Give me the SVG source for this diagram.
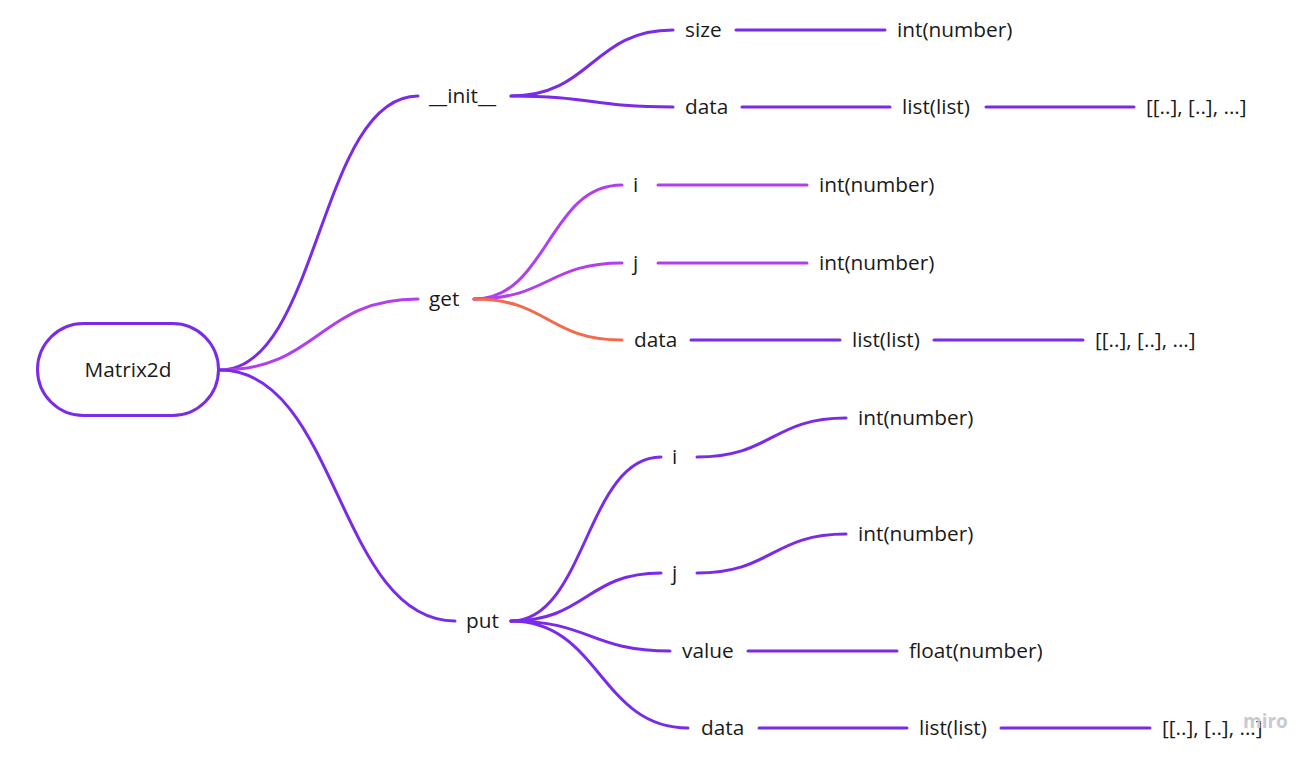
<svg xmlns="http://www.w3.org/2000/svg" width="1316" height="759" viewBox="0 0 1316 759">
<style>
text{font-family:"Open Sans","Noto Sans","Liberation Sans",sans-serif;font-size:20.8px;fill:#1a1a1a;dominant-baseline:central}
.c{fill:none;stroke-width:3;stroke-linecap:round}
.p{stroke:#7a2be8}
.l{stroke:#b13ff0}
.o{stroke:#f3694a}
.wm{font-size:19px;font-weight:bold;fill:#c9c9d2}
</style>
<rect width="1316" height="759" fill="#ffffff"/>
<g id="connectors">
<path class="c p" d="M220,370 C319,370 319,96 418,96"/>
<path class="c l" d="M220,370 C319,370 319,299 418,299"/>
<path class="c p" d="M220,370 C338,370 338,621 455,621"/>
<path class="c p" d="M511,96 C592,96 592,30 673,30"/>
<path class="c p" d="M511,96 C592,96 592,107 673,107"/>
<path class="c p" d="M736,30 H885"/>
<path class="c p" d="M742,107 H890"/>
<path class="c p" d="M986,107 H1134"/>
<path class="c l" d="M474,299 C548,299 548,185 622,185"/>
<path class="c l" d="M474,299 C548,299 548,263 622,263"/>
<path class="c o" d="M474,299 C548,299 548,340 622,340"/>
<path class="c l" d="M658,185 H807"/>
<path class="c l" d="M658,263 H807"/>
<path class="c p" d="M691,340 H840"/>
<path class="c p" d="M934,340 H1083"/>
<path class="c p" d="M511,621 C586,621 586,457 661,457"/>
<path class="c p" d="M511,621 C586,621 586,573 661,573"/>
<path class="c p" d="M511,621 C590,621 590,651 670,651"/>
<path class="c p" d="M511,621 C600,621 600,728 688,728"/>
<path class="c p" d="M697,457 C772,457 772,418 846,418"/>
<path class="c p" d="M697,573 C772,573 772,534 846,534"/>
<path class="c p" d="M748,651 H897"/>
<path class="c p" d="M759,728 H907"/>
<path class="c p" d="M1001,728 H1150"/>
</g>
<g id="root">
<rect x="37.5" y="323.5" width="181" height="92" rx="46" fill="#ffffff" stroke="#7a2be8" stroke-width="3"/>
<text x="128" y="369" text-anchor="middle">Matrix2d</text>
</g>
<g id="init"><text x="429" y="95">__init__</text></g>
<g id="init-size"><text x="685" y="29">size</text></g>
<g id="init-size-type"><text x="897" y="29">int(number)</text></g>
<g id="init-data"><text x="685" y="106">data</text></g>
<g id="init-data-type"><text x="902" y="106">list(list)</text></g>
<g id="init-data-val"><text x="1146" y="106">[[..], [..], ...]</text></g>
<g id="get"><text x="429" y="298">get</text></g>
<g id="get-i"><text x="633" y="184">i</text></g>
<g id="get-i-type"><text x="819" y="184">int(number)</text></g>
<g id="get-j"><text x="633" y="262">j</text></g>
<g id="get-j-type"><text x="819" y="262">int(number)</text></g>
<g id="get-data"><text x="634" y="339">data</text></g>
<g id="get-data-type"><text x="852" y="339">list(list)</text></g>
<g id="get-data-val"><text x="1095" y="339">[[..], [..], ...]</text></g>
<g id="put"><text x="466" y="620">put</text></g>
<g id="put-i"><text x="672" y="456">i</text></g>
<g id="put-i-type"><text x="858" y="417">int(number)</text></g>
<g id="put-j"><text x="672" y="572">j</text></g>
<g id="put-j-type"><text x="858" y="533">int(number)</text></g>
<g id="put-value"><text x="682" y="650">value</text></g>
<g id="put-value-type"><text x="909" y="650">float(number)</text></g>
<g id="put-data"><text x="701" y="727">data</text></g>
<g id="put-data-type"><text x="919" y="727">list(list)</text></g>
<g id="put-data-val"><text x="1162" y="727">[[..], [..], ...]</text></g>
<text class="wm" x="1243" y="721">miro</text>
</svg>
